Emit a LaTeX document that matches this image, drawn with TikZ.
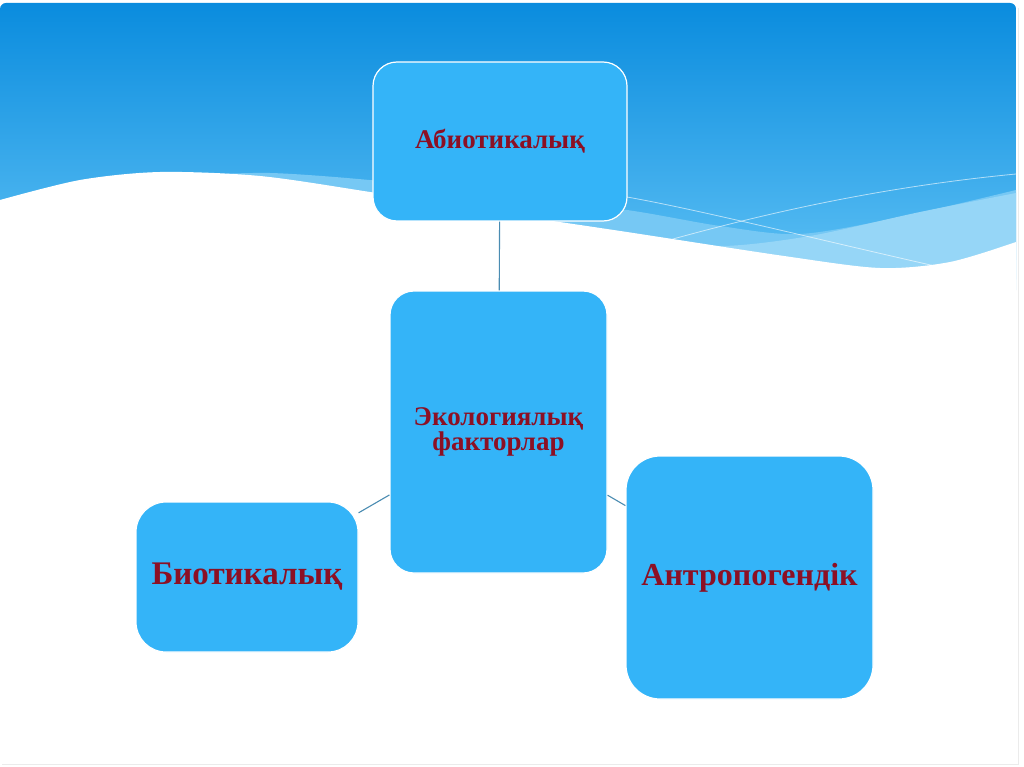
\documentclass[tikz,border=0pt]{standalone}
\usepackage{fontspec}
\setmainfont{Liberation Serif}
\definecolor{skytop}{RGB}{10,140,222}
\definecolor{skylow}{RGB}{96,194,245}
\definecolor{bandblue}{RGB}{118,200,244}
\definecolor{bandpale}{RGB}{150,214,247}
\definecolor{boxblue}{RGB}{52,180,248}
\definecolor{factred}{RGB}{140,16,36}
\definecolor{linkblue}{RGB}{74,140,178}

\begin{document}
\begin{tikzpicture}[x=1pt, y=-1pt,
  box/.style={draw=white, line width=1.2pt, rounded corners=24pt, fill=boxblue,
              inner sep=0pt, align=center, text=factred,
              font=\bfseries\fontsize{27}{25}\selectfont},
  bigbox/.style={box, rounded corners=30pt, font=\bfseries\fontsize{33}{34}\selectfont},
  link/.style={draw=linkblue, line width=1.1pt}]
  \useasboundingbox (0,0) rectangle (1024,767);
  \fill[white] (0,0) rectangle (1024,767);
  \shade[top color=skytop, bottom color=skylow, rounded corners=6pt] (0,3) rectangle (1016,290);
  \fill[bandblue] plot[smooth] coordinates {(180,176) (270,173) (380,181) (500,195) (627,210)
    (720,226) (800,234) (900,217) (1016,190)} -- (1016,290) -- (180,290) -- cycle;
  \fill[bandpale] plot[smooth] coordinates {(640,236) (720,246) (810,236) (920,212) (1016,193)}
    -- (1016,290) -- (640,290) -- cycle;
  \draw[white, opacity=.6, line width=.8pt] (627,197) .. controls (700,210) and (820,240) .. (935,266);
  \draw[white, opacity=.6, line width=.8pt] (620,254) .. controls (720,225) and (850,190) .. (1016,174);
  \fill[white] plot[smooth] coordinates {(0,200) (80,180) (160,172) (260,176) (370,192) (500,213)
    (627,232) (784,256) (880,268) (950,262) (1016,242)} -- (1017,320) -- (0,320) -- cycle;
  \draw[black!8] (1018,8) -- (1018,764) -- (2,764);

  \node[box, minimum width=254pt, minimum height=159pt] (abio) at (500,141.5) {Абиотикалық};
  \node[box, minimum width=217pt, minimum height=282pt] (eco) at (498.5,432) {Экологиялық\\факторлар};
  \node[bigbox, minimum width=222pt, minimum height=150pt] (bio) at (247,577) {Биотикалық};
  \node[bigbox, minimum width=247pt, minimum height=243pt, rounded corners=34pt,
        font=\bfseries\fontsize{32}{34}\selectfont] (anthro) at (749.5,577.5) {Антропогендік};
  \draw[link] (abio) -- (eco);
  \draw[link] (eco) -- (bio);
  \draw[link] (eco) -- (anthro);
\end{tikzpicture}
\end{document}
